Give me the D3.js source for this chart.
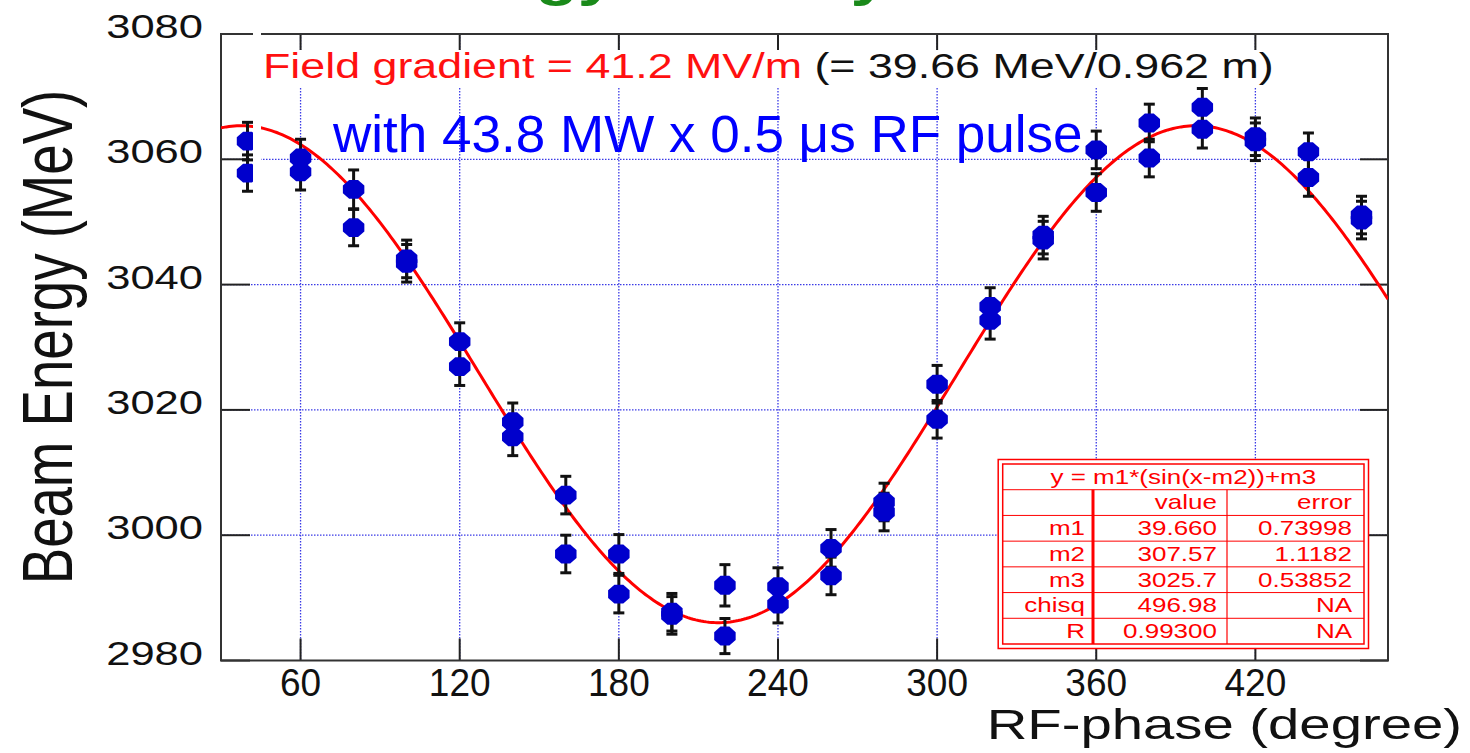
<!DOCTYPE html>
<meta charset="utf-8">
<script src="https://d3js.org/d3.v7.min.js"></script>
<style>
body { margin: 0; background: #fff; }
text { font-family: "Liberation Sans", Arial, Helvetica, sans-serif; }
</style>
<body>
<script>
// RF phase of each setting (degree); two beam-energy readings per setting
var phase   = [40, 60, 80, 100, 120, 140, 160, 180, 200, 220, 240, 260, 280, 300, 320, 340, 360, 380, 400, 420, 440, 460];
var energyA = [3062.9, 3060.2, 3055.2, 3044.1, 3030.9, 3018.1, 3006.4, 2997.0, 2987.7, 2992.0, 2991.8, 2997.9, 3005.3, 3024.1, 3036.5, 3047.9, 3061.5, 3065.8, 3068.3, 3063.6, 3061.2, 3051.1];
var energyB = [3057.8, 3058.0, 3049.1, 3043.4, 3026.9, 3015.7, 2997.0, 2990.6, 2987.2, 2983.9, 2989.0, 2993.5, 3003.7, 3018.5, 3034.3, 3047.1, 3054.7, 3060.2, 3064.8, 3062.8, 3057.1, 3050.3];
var errA    = [3.0, 3.0, 3.1, 3.0, 3.0, 3.0, 3.0, 3.1, 3.0, 3.3, 3.0, 3.0, 3.0, 3.0, 3.0, 3.0, 3.0, 3.0, 3.0, 3.0, 3.0, 3.0];
var errB    = [2.9, 2.9, 2.9, 3.0, 3.0, 3.0, 3.0, 3.0, 3.0, 2.8, 3.0, 3.0, 3.0, 3.0, 3.0, 3.0, 3.0, 3.0, 3.0, 3.0, 3.0, 3.0];

// fit table: y = m1*(sin(x-m2))+m3
var fitFormula = "y = m1*(sin(x-m2))+m3";
var fitNames  = ["m1", "m2", "m3", "chisq", "R"];
var fitValues = ["39.660", "307.57", "3025.7", "496.98", "0.99300"];
var fitErrors = ["0.73998", "1.1182", "0.53852", "NA", "NA"];

var xTicks = [60, 120, 180, 240, 300, 360, 420];
var yTicks = [2980, 3000, 3020, 3040, 3060, 3080];

var W = 1470, H = 753;
var plotL = 221, plotR = 1388, plotT = 34, plotB = 660.5;

var svg = d3.select("body").append("svg").attr("width", W).attr("height", H);

var x = d3.scaleLinear().domain([30, 470]).range([plotL, plotR]);
var y = d3.scaleLinear().domain([2980, 3080]).range([plotB, plotT]);

function stretchText(g, str, px, py, size, sx, anchor) {
	return g.append("text")
		.attr("transform", "translate(" + px + "," + py + ") scale(" + sx + ",1)")
		.attr("text-anchor", anchor)
		.style("font-size", size + "px")
		.text(str);
}

// cut-off green heading at the very top
stretchText(svg, "Energy Gain by", 382, -5, 54, 1.28, "start")
	.style("font-weight", "bold").attr("fill", "#1a8a1a");

// grid
var gridColor = "#3a3ae6";
svg.selectAll(".vgrid").data(xTicks).enter().append("line")
	.attr("x1", function(d) { return x(d); }).attr("x2", function(d) { return x(d); })
	.attr("y1", plotT).attr("y2", plotB)
	.attr("stroke", gridColor).attr("stroke-width", 1.3).attr("stroke-dasharray", "1.5,1.5");
svg.selectAll(".hgrid").data(yTicks.slice(1, -1)).enter().append("line")
	.attr("x1", plotL).attr("x2", plotR)
	.attr("y1", function(d) { return y(d); }).attr("y2", function(d) { return y(d); })
	.attr("stroke", gridColor).attr("stroke-width", 1.3).attr("stroke-dasharray", "1.5,1.5");

// inner ticks on all four sides
var tickColor = "#222";
svg.selectAll(".tb").data(xTicks).enter().append("line")
	.attr("x1", function(d) { return x(d); }).attr("x2", function(d) { return x(d); })
	.attr("y1", plotB).attr("y2", plotB - 22)
	.attr("stroke", tickColor).attr("stroke-width", 2);
svg.selectAll(".tt").data(xTicks).enter().append("line")
	.attr("x1", function(d) { return x(d); }).attr("x2", function(d) { return x(d); })
	.attr("y1", plotT).attr("y2", plotT + 22)
	.attr("stroke", tickColor).attr("stroke-width", 2);
svg.selectAll(".tl").data(yTicks).enter().append("line")
	.attr("x1", plotL).attr("x2", plotL + 29)
	.attr("y1", function(d) { return y(d); }).attr("y2", function(d) { return y(d); })
	.attr("stroke", tickColor).attr("stroke-width", 2);
svg.selectAll(".tr").data(yTicks).enter().append("line")
	.attr("x1", plotR - 28).attr("x2", plotR)
	.attr("y1", function(d) { return y(d); }).attr("y2", function(d) { return y(d); })
	.attr("stroke", tickColor).attr("stroke-width", 2);

// frame
svg.append("rect")
	.attr("x", plotL).attr("y", plotT).attr("width", plotR - plotL).attr("height", plotB - plotT)
	.attr("fill", "none").attr("stroke", "#333").attr("stroke-width", 2);

// white box behind the red annotation
svg.append("rect").attr("x", 255).attr("y", 50).attr("width", 1035).attr("height", 38).attr("fill", "#fff");

// tick labels
yTicks.forEach(function(d) {
	stretchText(svg, d, 203, y(d) + 4, 34, 1.28, "end").attr("fill", "#111");
});
xTicks.forEach(function(d) {
	stretchText(svg, d, x(d), 696, 39, 0.95, "middle").attr("fill", "#111");
});

// axis titles
stretchText(svg, "RF-phase (degree)", 1462, 739, 42, 1.34, "end").attr("fill", "#111");
svg.append("text")
	.attr("transform", "translate(72,337) scale(1.28,1) rotate(-90)")
	.attr("text-anchor", "middle")
	.style("font-size", "54.6px")
	.attr("fill", "#111")
	.text("Beam Energy (MeV)");

// annotations
var note = stretchText(svg, "", 263, 78, 35, 1.28, "start");
note.append("tspan").attr("fill", "#ff1010").text("Field gradient = 41.2 MV/m");
note.append("tspan").attr("fill", "#111").text(" (= 39.66 MeV/0.962 m)");
stretchText(svg, "with 43.8 MW x 0.5 \u03bcs RF pulse", 333, 152, 51, 1.04, "start").attr("fill", "#0000ff");

// fit curve
svg.append("clipPath").attr("id", "plotclip").append("rect")
	.attr("x", plotL).attr("y", plotT).attr("width", plotR - plotL).attr("height", plotB - plotT);
var m1 = +fitValues[0], m2 = +fitValues[1], m3 = +fitValues[2];
var fitLine = d3.line()
	.x(function(d) { return x(d); })
	.y(function(d) { return y(m1 * Math.sin((d - m2) * Math.PI / 180) + m3); });
svg.append("path")
	.datum(d3.range(30, 470.5, 1))
	.attr("clip-path", "url(#plotclip)")
	.attr("d", fitLine)
	.attr("fill", "none").attr("stroke", "#ff0000").attr("stroke-width", 3);

// data points with error bars
var points = [];
phase.forEach(function(p, i) {
	points.push({ p: p, e: energyA[i], err: errA[i] });
	points.push({ p: p, e: energyB[i], err: errB[i] });
});

var octagon = {
	draw: function(ctx, size) {
		var r = Math.sqrt(size) / 2;
		for (var i = 0; i < 8; i++) {
			var a = Math.PI / 8 + i * Math.PI / 4;
			var px = r * Math.cos(a), py = r * Math.sin(a) * 0.88;
			if (i === 0) ctx.moveTo(px, py); else ctx.lineTo(px, py);
		}
		ctx.closePath();
	}
};

var bars = svg.append("g").attr("stroke", "#111").attr("stroke-width", 3);
points.forEach(function(d) {
	var cx = x(d.p), y0 = y(d.e - d.err), y1 = y(d.e + d.err);
	bars.append("line").attr("x1", cx).attr("x2", cx).attr("y1", y0).attr("y2", y1);
	bars.append("line").attr("x1", cx - 5.5).attr("x2", cx + 5.5).attr("y1", y0).attr("y2", y0);
	bars.append("line").attr("x1", cx - 5.5).attr("x2", cx + 5.5).attr("y1", y1).attr("y2", y1);
});

svg.selectAll(".pt").data(points).enter().append("path")
	.attr("d", d3.symbol().type(octagon).size(540))
	.attr("transform", function(d) { return "translate(" + x(d.p) + "," + y(d.e) + ")"; })
	.attr("fill", "#0000cc");

// white overlay strip near the left edge (from the original slide)
svg.append("rect").attr("x", 253).attr("y", 28).attr("width", 8).attr("height", 165).attr("fill", "#fff");

// fit result table
var red = "#ff0000";
var tb = { x0: 1002.7, x1: 1364, y0: 464, y1: 644, c1: 1093, c2: 1227 };
var rh = (tb.y1 - tb.y0) / 7;
var table = svg.append("g");
table.append("rect").attr("x", tb.x0 - 4.5).attr("y", tb.y0 - 4.5)
	.attr("width", tb.x1 - tb.x0 + 9).attr("height", tb.y1 - tb.y0 + 9)
	.attr("fill", "#fff").attr("stroke", red).attr("stroke-width", 1.5);
table.append("rect").attr("x", tb.x0).attr("y", tb.y0)
	.attr("width", tb.x1 - tb.x0).attr("height", tb.y1 - tb.y0)
	.attr("fill", "none").attr("stroke", red).attr("stroke-width", 1.5);
d3.range(1, 7).forEach(function(i) {
	table.append("line").attr("x1", tb.x0).attr("x2", tb.x1)
		.attr("y1", tb.y0 + i * rh).attr("y2", tb.y0 + i * rh)
		.attr("stroke", red).attr("stroke-width", 1);
});
table.append("line").attr("x1", tb.c1).attr("x2", tb.c1).attr("y1", tb.y0 + rh).attr("y2", tb.y1)
	.attr("stroke", red).attr("stroke-width", 3);
table.append("line").attr("x1", tb.c2).attr("x2", tb.c2).attr("y1", tb.y0 + rh).attr("y2", tb.y1)
	.attr("stroke", red).attr("stroke-width", 1.2);

function cell(str, px, row, anchor) {
	stretchText(table, str, px, tb.y0 + (row + 1) * rh - 6, 20, 1.3, anchor).attr("fill", red);
}
cell(fitFormula, (tb.x0 + tb.x1) / 2, 0, "middle");
cell("value", tb.c2 - 10, 1, "end");
cell("error", tb.x1 - 12, 1, "end");
fitNames.forEach(function(n, i) {
	cell(n, tb.c1 - 8, i + 2, "end");
	cell(fitValues[i], tb.c2 - 10, i + 2, "end");
	cell(fitErrors[i], tb.x1 - 12, i + 2, "end");
});
</script>
</body>
